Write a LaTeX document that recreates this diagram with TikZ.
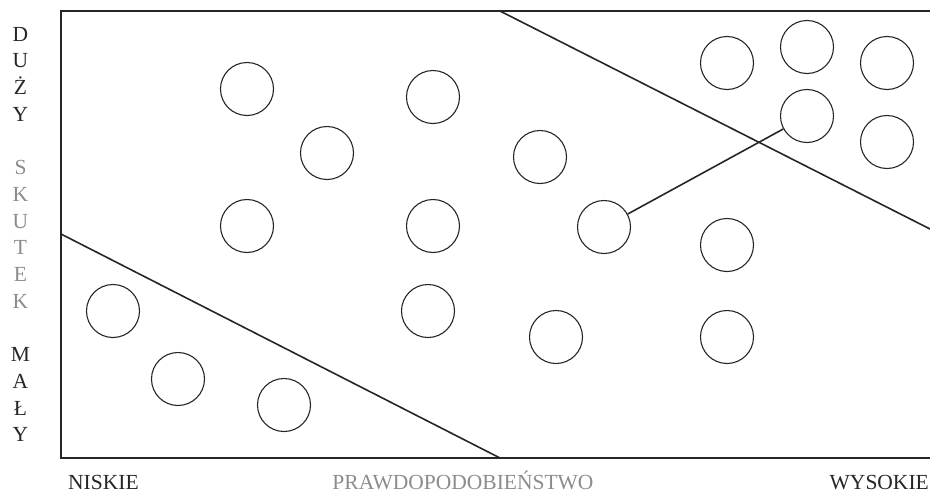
\documentclass[tikz,border=0pt]{standalone}
\usepackage{fontspec}
\setmainfont{Liberation Serif}
\usetikzlibrary{positioning}

\begin{document}
\begin{tikzpicture}[
        x=1pt, y=-1pt,
        risk/.style={
            circle, draw=black!85, line width=1.1pt, inner sep=0pt,
            minimum size=53pt
        },
        edge/.style={draw=black!85, line width=1.6pt},
        letter/.style={
            inner sep=0pt, text height=14.2pt, text depth=0pt,
            font=\fontsize{21.5}{24}\selectfont, text=black!85
        },
        axis/.style={
            inner sep=0pt, text height=14.2pt, text depth=0pt,
            font=\fontsize{21.5}{24}\selectfont, text=black!85
        }
    ]
    \useasboundingbox (0,0) rectangle (930,493);

    % Frame and zone borders
    \coordinate (tl) at (61,11);
    \coordinate (tr) at (930,11);
    \coordinate (bl) at (61,458);
    \coordinate (br) at (930,458);
    \coordinate (hi1) at (500,11);
    \coordinate (hi2) at (930,229);
    \coordinate (lo1) at (61,234);
    \coordinate (lo2) at (500,458);
    \draw[edge] (tr) -- (tl) -- (bl) -- (br);
    \draw[edge] (hi1) -- (hi2);
    \draw[edge] (lo1) -- (lo2);

    % Risks
    \node[risk] (r1) at (247,89) {};
    \node[risk] (r2) at (433,97) {};
    \node[risk] (r3) at (327,153) {};
    \node[risk] (r4) at (540,157) {};
    \node[risk] (r5) at (247,226) {};
    \node[risk] (r6) at (433,226) {};
    \node[risk] (r7) at (604,227) {};
    \node[risk] (r8) at (727,245) {};
    \node[risk] (r9) at (113,311) {};
    \node[risk] (r10) at (428,311) {};
    \node[risk] (r11) at (556,337) {};
    \node[risk] (r12) at (727,337) {};
    \node[risk] (r13) at (178,379) {};
    \node[risk] (r14) at (284,405) {};
    \node[risk] (r15) at (727,63) {};
    \node[risk] (r16) at (807,47) {};
    \node[risk] (r17) at (887,63) {};
    \node[risk] (r18) at (807,116) {};
    \node[risk] (r19) at (887,142) {};

    % Link
    \draw[edge] (r7) -- (r18);

    % Vertical axis
    \foreach \ch [count=\i] in {D,U,Ż,Y}
        \node[letter] (big\i) at (20.5,{34+(\i-1)*26.7}) {\ch};
    \foreach \ch [count=\i] in {S,K,U,T,E,K}
        \node[letter, text=black!45] (eff\i) at (20.5,{167.5+(\i-1)*26.7}) {\ch};
    \foreach \ch [count=\i] in {M,A,Ł,Y}
        \node[letter] (small\i) at (20.5,{354.7+(\i-1)*26.7}) {\ch};

    % Horizontal axis
    \node[axis, anchor=west] (low) at (68,482.5) {NISKIE};
    \node[axis, text=black!45] (prob) at (463,482.5) {PRAWDOPODOBIEŃSTWO};
    \node[axis, anchor=east] (high) at (929,482.5) {WYSOKIE};
\end{tikzpicture}
\end{document}
